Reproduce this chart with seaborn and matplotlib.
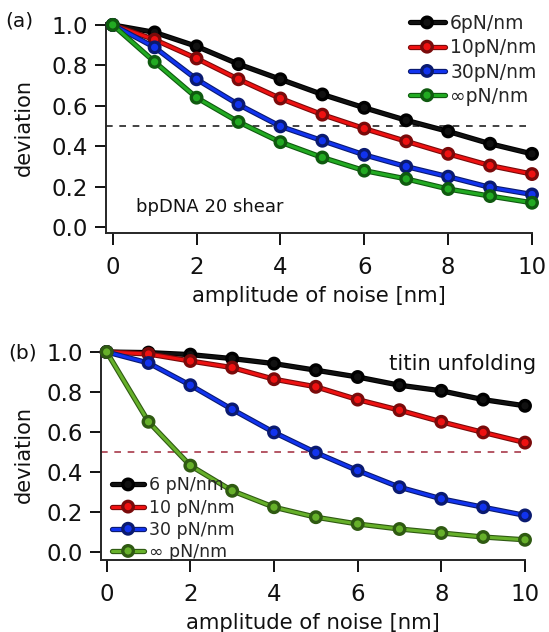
import numpy as np
import pandas as pd
import matplotlib
matplotlib.use("Agg")
import matplotlib.pyplot as plt
import matplotlib.patheffects as pe
from matplotlib.lines import Line2D
import seaborn as sns

noise = [0, 1, 2, 3, 4, 5, 6, 7, 8, 9, 10]

# panel (a): bpDNA 20 shear
a_6 = [1.0, 0.963, 0.894, 0.806, 0.731, 0.656, 0.590, 0.528, 0.473, 0.412, 0.362]
a_10 = [1.0, 0.927, 0.834, 0.731, 0.636, 0.556, 0.487, 0.424, 0.362, 0.304, 0.262]
a_30 = [1.0, 0.889, 0.731, 0.606, 0.498, 0.427, 0.357, 0.299, 0.249, 0.196, 0.161]
a_inf = [1.0, 0.817, 0.640, 0.520, 0.420, 0.344, 0.279, 0.238, 0.188, 0.153, 0.120]

# panel (b): titin unfolding
b_6 = [1.0, 0.997, 0.987, 0.967, 0.942, 0.909, 0.875, 0.834, 0.806, 0.762, 0.731]
b_10 = [1.0, 0.990, 0.955, 0.922, 0.864, 0.826, 0.762, 0.709, 0.651, 0.598, 0.547]
b_30 = [1.0, 0.945, 0.834, 0.713, 0.598, 0.497, 0.407, 0.324, 0.266, 0.224, 0.183]
b_inf = [1.0, 0.651, 0.432, 0.306, 0.224, 0.174, 0.140, 0.115, 0.095, 0.075, 0.061]

labels_a = ["6pN/nm", "10pN/nm", "30pN/nm", "\u221epN/nm"]
labels_b = ["6 pN/nm", "10 pN/nm", "30 pN/nm", "\u221e pN/nm"]

colors_a = ["#111111", "#ee1111", "#1133ee", "#22aa22"]
edges_a = ["#000000", "#7a0a0a", "#0a1a70", "#0f5a0f"]
colors_b = ["#111111", "#ee1111", "#1133ee", "#66b02a"]
edges_b = ["#000000", "#7a0a0a", "#0a1a70", "#2f5a12"]

sns.set_theme(style="ticks")
plt.rcParams["font.family"] = ["DejaVu Sans"]

W, H = 549, 632
fig = plt.figure(figsize=(W / 100, H / 100), dpi=100)


def px_axes(left, right, top, bottom):
    return fig.add_axes([left / W, 1 - bottom / H, (right - left) / W, (bottom - top) / H])


ax_a = px_axes(105.7, 532, 22.7, 233)
ax_b = px_axes(100.7, 525, 350, 560)

LW = 2.2
SW = 3.8
MS = 6.2


def draw(ax, series, labels, colors, edges):
    handles = []
    for vals, lab, c, e in zip(series, labels, colors, edges):
        df = pd.DataFrame({"x": noise, "y": vals})
        sns.lineplot(data=df, x="x", y="y", ax=ax, color=c, linewidth=LW,
                     marker="o", markersize=MS, markeredgecolor=e,
                     markeredgewidth=1.0, clip_on=False, zorder=3,
                     path_effects=[pe.Stroke(linewidth=SW, foreground=e), pe.Normal()])
        handles.append(Line2D([0], [0], color=c, linewidth=LW, marker="o",
                              markersize=MS, markeredgecolor=e, markeredgewidth=1.0,
                              path_effects=[pe.Stroke(linewidth=SW, foreground=e), pe.Normal()],
                              label=lab))
    return handles


h_a = draw(ax_a, [a_6, a_10, a_30, a_inf], labels_a, colors_a, edges_a)
h_b = draw(ax_b, [b_6, b_10, b_30, b_inf], labels_b, colors_b, edges_b)

ax_a.axhline(0.5, color="#222222", linestyle=(0, (4, 4)), linewidth=1.2, zorder=1)
ax_b.axhline(0.5, color="#a83a4a", linestyle=(0, (4, 4)), linewidth=1.2, zorder=1)

ax_a.set_xlim(-0.167, 10)
ax_a.set_ylim(-0.0297, 1.011)
ax_b.set_xlim(-0.143, 10)
ax_b.set_ylim(-0.04, 1.01)

for ax, ypad in ((ax_a, 13), (ax_b, 9)):
    sns.despine(ax=ax)
    ax.spines["left"].set_linewidth(1.4)
    ax.spines["bottom"].set_linewidth(1.4)
    ax.set_xticks([0, 2, 4, 6, 8, 10])
    ax.set_yticks([0.0, 0.2, 0.4, 0.6, 0.8, 1.0])
    ax.set_yticklabels(["0.0", "0.2", "0.4", "0.6", "0.8", "1.0"])
    ax.tick_params(axis="both", direction="out", width=1.4, labelsize=16.5, colors="#111111")
    ax.tick_params(axis="y", length=7.7, pad=5)
    ax.tick_params(axis="x", length=8.6, pad=8)
    ax.set_xlabel("amplitude of noise [nm]", fontsize=15.3, color="#111111", labelpad=5)
    ax.set_ylabel("deviation", fontsize=15, color="#111111", labelpad=ypad)
    ax.set_facecolor("white")

fig.text(136.5 / W, 1 - 207 / H, "bpDNA 20 shear", fontsize=13,
         color="#111111", ha="left", va="center")
fig.text(536 / W, 1 - 364 / H, "titin unfolding", fontsize=15.2,
         color="#111111", ha="right", va="center")

fig.text(5 / W, 1 - 21 / H, "(a)", fontsize=14.5, ha="left", va="center", color="#111111")
fig.text(8 / W, 1 - 353 / H, "(b)", fontsize=14.5, ha="left", va="center", color="#111111")

leg_a = fig.legend(handles=h_a, loc="upper left", bbox_to_anchor=(409.5 / W, 1 - 14 / H),
                   bbox_transform=fig.transFigure, frameon=False, fontsize=13.5,
                   handlelength=1.87, handletextpad=0.3, labelspacing=0.28,
                   borderpad=0.0, borderaxespad=0.0)
leg_b = fig.legend(handles=h_b, loc="lower left", bbox_to_anchor=(112 / W, 1 - 561 / H),
                   bbox_transform=fig.transFigure, frameon=False, fontsize=12.5,
                   handlelength=1.85, handletextpad=0.3, labelspacing=0.24,
                   borderpad=0.0, borderaxespad=0.0)

fig.savefig("out.png", dpi=100, facecolor="white")
